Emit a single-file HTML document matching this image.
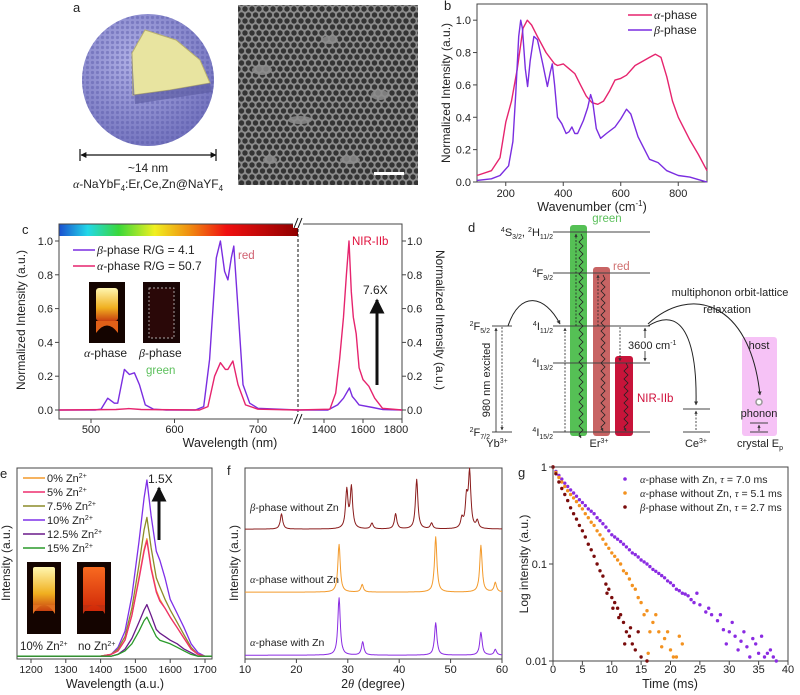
<!DOCTYPE html>
<html><head><meta charset="utf-8"><style>
html,body{margin:0;padding:0;background:#fff;}
svg{display:block;font-family:"Liberation Sans",Arial,sans-serif;}
text{fill:#222;}
</style></head>
<body>
<svg id="fig" width="800" height="695" viewBox="0 0 800 695" xmlns="http://www.w3.org/2000/svg" font-family="Liberation Sans, Arial, sans-serif">
<defs>
  <linearGradient id="rainbow" x1="0" x2="1" y1="0" y2="0">
    <stop offset="0" stop-color="#1a4fd0"/><stop offset="0.12" stop-color="#22d8e8"/>
    <stop offset="0.25" stop-color="#3ad83a"/><stop offset="0.4" stop-color="#f0f020"/>
    <stop offset="0.55" stop-color="#f08a10"/><stop offset="0.7" stop-color="#f01010"/>
    <stop offset="1" stop-color="#900000"/>
  </linearGradient>
  <radialGradient id="sph" cx="0.4" cy="0.35" r="0.7">
    <stop offset="0" stop-color="#b0b0e6"/><stop offset="1" stop-color="#7070bc"/>
  </radialGradient>
  <pattern id="dots" width="7" height="12" patternUnits="userSpaceOnUse">
    <circle cx="3.5" cy="3" r="2.7" fill="#1e1e1e"/>
    <circle cx="0" cy="9" r="2.7" fill="#1e1e1e"/>
    <circle cx="7" cy="9" r="2.7" fill="#1e1e1e"/>
  </pattern>
  <pattern id="atoms" width="5" height="5" patternUnits="userSpaceOnUse">
    <circle cx="2.5" cy="2.5" r="1.6" fill="#5858a8" opacity="0.45"/>
  </pattern>
  <linearGradient id="glowY" x1="0" x2="0" y1="0" y2="1">
    <stop offset="0" stop-color="#fff6b0"/><stop offset="0.6" stop-color="#f0b020"/><stop offset="1" stop-color="#c84010"/>
  </linearGradient>
  <linearGradient id="glowR" x1="0" x2="0" y1="0" y2="1">
    <stop offset="0" stop-color="#f86a20"/><stop offset="1" stop-color="#d02808"/>
  </linearGradient>
  <marker id="ah" viewBox="0 0 10 10" refX="9" refY="5" markerWidth="5" markerHeight="5" orient="auto-start-reverse"><path d="M0,0L10,5L0,10z" fill="#111"/></marker>
  <marker id="ahs" viewBox="0 0 10 10" refX="9" refY="5" markerWidth="4" markerHeight="4" orient="auto-start-reverse"><path d="M0,0L10,5L0,10z" fill="#333"/></marker>
</defs>

<!-- Panel a -->
<g>
  <text x="73" y="12" font-size="13">a</text>
  <circle cx="148" cy="80" r="66" fill="url(#sph)"/>
  <circle cx="148" cy="80" r="66" fill="url(#atoms)"/>
  <polygon points="145,30 176,40 200,60 210,83 170,90 133,95 132,53" fill="#e8e4a0" stroke="#b8b070" stroke-width="1"/>
  <polygon points="132,53 133,95 170,90 210,83 212,92 135,104" fill="#5a5aa0" opacity="0.6"/>
  <line x1="81" y1="155" x2="216" y2="155" stroke="#111" stroke-width="1.2" marker-start="url(#ah)" marker-end="url(#ah)"/>
  <line x1="80" y1="149" x2="80" y2="161" stroke="#111" stroke-width="1.2"/>
  <line x1="216" y1="149" x2="216" y2="161" stroke="#111" stroke-width="1.2"/>
  <text x="148" y="172" font-size="12" text-anchor="middle">~14 nm</text>
  <text x="148" y="188" font-size="12" text-anchor="middle"><tspan font-style="italic" font-family="Liberation Serif">α</tspan>-NaYbF<tspan font-size="8" dy="3">4</tspan><tspan dy="-3">:Er,Ce,Zn@NaYF</tspan><tspan font-size="8" dy="3">4</tspan></text>
  <rect x="238" y="5" width="180" height="180" fill="#8c8c8c"/>
  <rect x="238" y="5" width="180" height="180" fill="url(#dots)" opacity="0.8"/>
  <g fill="#8c8c8c" opacity="0.85">
    <ellipse cx="262" cy="70" rx="10" ry="5"/><ellipse cx="330" cy="40" rx="8" ry="4"/>
    <ellipse cx="300" cy="120" rx="12" ry="4"/><ellipse cx="380" cy="95" rx="9" ry="5"/>
    <ellipse cx="350" cy="160" rx="10" ry="4"/><ellipse cx="270" cy="160" rx="7" ry="4"/>
  </g>
  <rect x="374" y="172" width="30" height="3" fill="#fff"/>
</g>

<!-- Panel b -->
<g id="pb">
  <text x="444" y="10" font-size="13">b</text>
  <rect x="477" y="4" width="230" height="178" fill="none" stroke="#444" stroke-width="1"/>
  <text x="592" y="211" font-size="12.5" text-anchor="middle">Wavenumber (cm<tspan font-size="8" dy="-5">-1</tspan><tspan dy="5">)</tspan></text>
  <text transform="translate(450,93) rotate(-90)" font-size="12" text-anchor="middle">Normalized Intensity (a.u.)</text>
  <line x1="628" y1="15" x2="652" y2="15" stroke="#e6246e" stroke-width="1.5"/>
  <text x="654" y="19" font-size="12"><tspan font-style="italic" font-family="Liberation Serif">α</tspan>-phase</text>
  <line x1="628" y1="30" x2="652" y2="30" stroke="#7a2de0" stroke-width="1.5"/>
  <text x="654" y="34" font-size="12"><tspan font-style="italic" font-family="Liberation Serif">β</tspan>-phase</text>
</g>

<!-- Panel c -->
<g id="pc">
  <text x="22" y="234" font-size="13">c</text>
  <rect x="59" y="224" width="239" height="12" fill="url(#rainbow)"/>
  <rect x="59" y="224" width="343" height="195" fill="none" stroke="#444" stroke-width="1"/>
  <line x1="298" y1="224" x2="298" y2="419" stroke="#111" stroke-dasharray="3,2"/>
  <rect x="293" y="218" width="10" height="10" fill="#fff"/>
  <rect x="293" y="414" width="10" height="10" fill="#fff"/>
  <path d="M294,228 L298,218 M298,228 L302,218 M294,424 L298,414 M298,424 L302,414" stroke="#111" stroke-width="1"/>
  <text x="230" y="447" font-size="12.5" text-anchor="middle">Wavelength (nm)</text>
  <text transform="translate(25,320) rotate(-90)" font-size="12" text-anchor="middle">Normalized Intensity (a.u.)</text>
  <text transform="translate(436,320) rotate(90)" font-size="12" text-anchor="middle">Normalized Intensity (a.u.)</text>
  <line x1="73" y1="250" x2="95" y2="250" stroke="#7a2de0" stroke-width="1.5"/>
  <text x="97" y="254" font-size="12"><tspan font-style="italic" font-family="Liberation Serif">β</tspan>-phase R/G = 4.1</text>
  <line x1="73" y1="266" x2="95" y2="266" stroke="#e6246e" stroke-width="1.5"/>
  <text x="97" y="270" font-size="12"><tspan font-style="italic" font-family="Liberation Serif">α</tspan>-phase R/G = 50.7</text>
  <g>
    <rect x="89" y="282" width="36" height="61" fill="#140400"/>
    <rect x="96" y="288" width="22" height="33" rx="3" fill="url(#glowY)"/>
    <path d="M96,333 Q107,318 118,333 L118,321 L96,321z" fill="#e06018"/>
  </g>
  <g>
    <rect x="143" y="282" width="37" height="61" fill="#1a0505"/>
    <rect x="149" y="288" width="25" height="50" fill="#2a0808" stroke="#ddd" stroke-dasharray="2,2" stroke-width="0.7"/>
  </g>
  <text x="84" y="357" font-size="12"><tspan font-style="italic" font-family="Liberation Serif">α</tspan>-phase</text>
  <text x="139" y="357" font-size="12"><tspan font-style="italic" font-family="Liberation Serif">β</tspan>-phase</text>
  <text x="146" y="374" font-size="11.5" style="fill:#5cc05c">green</text>
  <text x="238" y="259" font-size="11.5" style="fill:#d06070">red</text>
  <text x="352" y="245" font-size="11.5" style="fill:#e0103c">NIR-IIb</text>
  <text x="363" y="294" font-size="12">7.6X</text>
  <line x1="377" y1="385" x2="377" y2="300" stroke="#111" stroke-width="3" marker-end="url(#ah)"/>
</g>

<!-- Panel d -->
<g id="pd" font-size="11">
  <text x="468" y="232" font-size="13">d</text>
  <rect x="570" y="225" width="17" height="211" rx="3" fill="#55c055"/>
  <rect x="593" y="267" width="17" height="169" rx="3" fill="#c86464"/>
  <rect x="615" y="356" width="18" height="80" rx="3" fill="#c8143a"/>
  <rect x="742" y="337" width="35" height="99" rx="3" fill="#f6c2f6"/>
  <g stroke="#444" stroke-width="1">
    <line x1="553" y1="232" x2="650" y2="232"/><line x1="553" y1="273" x2="650" y2="273"/>
    <line x1="553" y1="326" x2="650" y2="326"/><line x1="553" y1="363" x2="650" y2="363"/>
    <line x1="553" y1="432" x2="650" y2="432"/>
    <line x1="492" y1="326" x2="512" y2="326"/><line x1="492" y1="432" x2="512" y2="432"/>
    <line x1="683" y1="409" x2="710" y2="409"/><line x1="683" y1="432" x2="710" y2="432"/>
    <line x1="750" y1="423" x2="768" y2="423"/><line x1="750" y1="432" x2="768" y2="432"/>
  </g>
  <g stroke="#222" fill="none" stroke-width="0.8">
    <line x1="496" y1="432" x2="496" y2="328" marker-end="url(#ahs)"/>
    <line x1="502" y1="327" x2="502" y2="430" stroke-dasharray="2,1.5" marker-end="url(#ahs)"/>
    <line x1="565" y1="432" x2="565" y2="328" stroke-dasharray="2,1.5" marker-end="url(#ahs)"/>
    <line x1="576" y1="326" x2="576" y2="234" stroke-dasharray="2,1.5" marker-end="url(#ahs)"/>
    <line x1="598" y1="326" x2="598" y2="275" stroke-dasharray="2,1.5" marker-end="url(#ahs)"/>
    <line x1="620" y1="327" x2="620" y2="361" stroke-dasharray="2,1.5" marker-end="url(#ahs)"/>
    <path d="M581,234 l2,4 l-4,4 l4,4 l-4,4 l4,4 l-4,4 l4,4 l-4,4 l4,4 l-4,4 l4,4 l-4,4 l4,4 l-4,4 l4,4 l-4,4 l4,4 l-4,4 l4,4 l-4,4 l4,4 l-4,4 l4,4 l-4,4 l4,4 l-4,4 l4,4 l-4,4 l4,4 l-4,4 l4,4 l-4,4 l4,4 l-4,4 l4,4 l-4,4 l4,4 l-4,4 l4,4 l-4,4 l4,4 l-4,4 l4,4 l-4,4 l4,4 l-4,4 l4,4 l-4,4 l4,4 l-4,4 l2,4" marker-end="url(#ahs)"/>
    <path d="M603,275 l2,4 l-4,4 l4,4 l-4,4 l4,4 l-4,4 l4,4 l-4,4 l4,4 l-4,4 l4,4 l-4,4 l4,4 l-4,4 l4,4 l-4,4 l4,4 l-4,4 l4,4 l-4,4 l4,4 l-4,4 l4,4 l-4,4 l4,4 l-4,4 l4,4 l-4,4 l4,4 l-4,4 l4,4 l-4,4 l4,4 l-4,4 l4,4 l-4,4 l4,4 l-4,4 l2,4" marker-end="url(#ahs)"/>
    <path d="M626,363 l2,4 l-4,4 l4,4 l-4,4 l4,4 l-4,4 l4,4 l-4,4 l4,4 l-4,4 l4,4 l-4,4 l4,4 l-4,4 l4,4 l-4,4 l2,4" marker-end="url(#ahs)"/>
    <path d="M508,326 C520,290 545,295 560,324" stroke-width="1" marker-end="url(#ahs)"/>
    <path d="M648,326 C690,300 697,360 696,405" stroke-width="1" marker-end="url(#ahs)"/>
    <path d="M648,324 C690,285 750,300 760,395" stroke-width="1" marker-end="url(#ahs)"/>
    <line x1="645" y1="338" x2="645" y2="328" marker-end="url(#ahs)"/>
    <line x1="645" y1="351" x2="645" y2="361" marker-end="url(#ahs)"/>
    <line x1="696" y1="430" x2="696" y2="411" stroke-dasharray="2,1.5" marker-end="url(#ahs)"/>
    <line x1="759" y1="431" x2="759" y2="425" marker-end="url(#ahs)"/>
  </g>
  <circle cx="759" cy="402" r="3" fill="#fff" stroke="#999" stroke-width="1.5"/>
  <text x="553" y="236" text-anchor="end"><tspan font-size="7" dy="-4">4</tspan><tspan dy="4">S</tspan><tspan font-size="7" dy="3">3/2</tspan><tspan dy="-3">, </tspan><tspan font-size="7" dy="-4">2</tspan><tspan dy="4">H</tspan><tspan font-size="7" dy="3">11/2</tspan></text>
  <text x="553" y="277" text-anchor="end"><tspan font-size="7" dy="-4">4</tspan><tspan dy="4">F</tspan><tspan font-size="7" dy="3">9/2</tspan></text>
  <text x="553" y="330" text-anchor="end"><tspan font-size="7" dy="-4">4</tspan><tspan dy="4">I</tspan><tspan font-size="7" dy="3">11/2</tspan></text>
  <text x="553" y="367" text-anchor="end"><tspan font-size="7" dy="-4">4</tspan><tspan dy="4">I</tspan><tspan font-size="7" dy="3">13/2</tspan></text>
  <text x="553" y="436" text-anchor="end"><tspan font-size="7" dy="-4">4</tspan><tspan dy="4">I</tspan><tspan font-size="7" dy="3">15/2</tspan></text>
  <text x="490" y="330" text-anchor="end"><tspan font-size="7" dy="-4">2</tspan><tspan dy="4">F</tspan><tspan font-size="7" dy="3">5/2</tspan></text>
  <text x="490" y="436" text-anchor="end"><tspan font-size="7" dy="-4">2</tspan><tspan dy="4">F</tspan><tspan font-size="7" dy="3">7/2</tspan></text>
  <text transform="translate(490,380) rotate(-90)" text-anchor="middle" font-size="11">980 nm excited</text>
  <text x="607" y="222" font-size="11.5" text-anchor="middle" style="fill:#5cc05c">green</text>
  <text x="613" y="270" font-size="11.5" style="fill:#d07070">red</text>
  <text x="637" y="402" font-size="11.5" style="fill:#d0103c">NIR-IIb</text>
  <text x="628" y="349" font-size="11">3600 cm<tspan font-size="7" dy="-4">-1</tspan></text>
  <text x="730" y="296" font-size="11" text-anchor="middle">multiphonon orbit-lattice</text>
  <text x="727" y="313" font-size="11" text-anchor="middle">relaxation</text>
  <text x="759" y="349" font-size="11" text-anchor="middle">host</text>
  <text x="759" y="417" font-size="11" text-anchor="middle">phonon</text>
  <text x="760" y="447" font-size="11" text-anchor="middle">crystal E<tspan font-size="7" dy="3">p</tspan></text>
  <text x="497" y="447" font-size="11" text-anchor="middle">Yb<tspan font-size="7" dy="-4">3+</tspan></text>
  <text x="599" y="447" font-size="11" text-anchor="middle">Er<tspan font-size="7" dy="-4">3+</tspan></text>
  <text x="696" y="447" font-size="11" text-anchor="middle">Ce<tspan font-size="7" dy="-4">3+</tspan></text>
</g>

<!-- Panel e -->
<g id="pe">
  <text x="0" y="478" font-size="13">e</text>
  <rect x="17" y="468" width="195" height="191" fill="none" stroke="#444"/>
  <text x="115" y="688" font-size="12.5" text-anchor="middle">Wavelength (a.u.)</text>
  <text transform="translate(10,563) rotate(-90)" font-size="12" text-anchor="middle">Intensity (a.u.)</text>
  <g>
    <rect x="27" y="562" width="34" height="72" fill="#140400"/>
    <rect x="33" y="567" width="22" height="44" rx="2" fill="url(#glowY)"/>
    <path d="M33,614 Q44,596 55,614 L55,605 L33,605z" fill="#e07020"/>
  </g>
  <g>
    <rect x="77" y="562" width="34" height="72" fill="#140400"/>
    <rect x="83" y="567" width="22" height="44" rx="2" fill="url(#glowR)"/>
    <path d="M83,614 Q94,596 105,614 L105,605 L83,605z" fill="#c03010"/>
  </g>
  <text x="20" y="650" font-size="11.5">10% Zn<tspan font-size="7" dy="-4">2+</tspan></text>
  <text x="78" y="650" font-size="11.5">no Zn<tspan font-size="7" dy="-4">2+</tspan></text>
  <text x="148" y="483" font-size="12">1.5X</text>
  <line x1="159" y1="540" x2="159" y2="488" stroke="#111" stroke-width="3" marker-end="url(#ah)"/>
</g>

<!-- Panel f -->
<g id="pf">
  <text x="227" y="475" font-size="13">f</text>
  <rect x="245" y="468" width="257" height="191" fill="none" stroke="#444"/>
  <text x="373" y="688" font-size="12.5" text-anchor="middle">2<tspan font-style="italic" font-family="Liberation Serif">θ</tspan> (degree)</text>
  <text transform="translate(238,563) rotate(-90)" font-size="12" text-anchor="middle">Intensity (a.u.)</text>
  <text x="250" y="511" font-size="10.5"><tspan font-style="italic" font-family="Liberation Serif">β</tspan>-phase without Zn</text>
  <text x="250" y="583" font-size="10.5"><tspan font-style="italic" font-family="Liberation Serif">α</tspan>-phase without Zn</text>
  <text x="250" y="646" font-size="10.5"><tspan font-style="italic" font-family="Liberation Serif">α</tspan>-phase with Zn</text>
</g>

<!-- Panel g -->
<g id="pg">
  <text x="518" y="477" font-size="13">g</text>
  <rect x="553" y="467" width="235" height="194" fill="none" stroke="#444"/>
  <text x="670" y="688" font-size="12.5" text-anchor="middle">Time (ms)</text>
  <text transform="translate(528,564) rotate(-90)" font-size="12" text-anchor="middle">Log intensity (a.u.)</text>
  <circle cx="625" cy="479" r="1.8" fill="#8a2be2"/>
  <text x="640" y="483" font-size="10.5"><tspan font-style="italic" font-family="Liberation Serif">α</tspan>-phase with Zn, <tspan font-style="italic" font-family="Liberation Serif">τ</tspan> = 7.0 ms</text>
  <circle cx="625" cy="493" r="1.8" fill="#f39220"/>
  <text x="640" y="497" font-size="10.5"><tspan font-style="italic" font-family="Liberation Serif">α</tspan>-phase without Zn, <tspan font-style="italic" font-family="Liberation Serif">τ</tspan> = 5.1 ms</text>
  <circle cx="625" cy="507" r="1.8" fill="#7a0c0c"/>
  <text x="640" y="511" font-size="10.5"><tspan font-style="italic" font-family="Liberation Serif">β</tspan>-phase without Zn, <tspan font-style="italic" font-family="Liberation Serif">τ</tspan> = 2.7 ms</text>
</g>
</svg>

<script>
// ---------- Panel b data ----------
const bAlphaX = [100,150,180,200,220,240,260,275,290,310,340,370,380,400,420,440,460,480,500,520,540,560,580,600,620,650,680,700,720,740,760,780,800,840,870,900];
const bAlphaY = [0.04,0.07,0.15,0.37,0.5,0.7,0.95,1.0,0.97,0.9,0.8,0.73,0.72,0.73,0.7,0.67,0.6,0.53,0.49,0.48,0.5,0.56,0.63,0.64,0.66,0.72,0.75,0.77,0.79,0.77,0.65,0.5,0.4,0.26,0.17,0.07];
const bBetaX = [100,150,180,210,225,235,245,252,258,268,276,285,298,310,320,330,338,345,355,362,370,380,395,410,420,430,440,450,470,485,495,502,515,530,550,580,600,620,635,660,700,730,760,800,840,880,900];
const bBetaY = [0.01,0.02,0.04,0.1,0.25,0.55,0.9,1.0,0.95,0.7,0.59,0.75,0.9,0.88,0.8,0.72,0.65,0.59,0.68,0.73,0.6,0.4,0.36,0.3,0.31,0.34,0.3,0.3,0.38,0.46,0.54,0.5,0.33,0.27,0.3,0.34,0.39,0.45,0.42,0.28,0.14,0.12,0.07,0.04,0.03,0.01,0.0];
const bXTicks = [200,400,600,800];
const bYTicks = [0.0,0.2,0.4,0.6,0.8,1.0];

// ---------- Panel c data ----------
const cBetaX = [462,505,512,520,528,532,540,546,552,558,565,575,590,625,635,642,650,655,660,664,668,671,676,682,690,700,747];
const cBetaY = [0,0,0.005,0.07,0.04,0.04,0.24,0.21,0.22,0.15,0.03,0.005,0,0,0.02,0.3,0.9,1.0,0.82,0.77,0.9,0.97,0.6,0.15,0.04,0.01,0];
const cAlphaX = [462,530,545,560,630,640,648,655,661,664,670,676,685,700,747];
const cAlphaY = [0,0.003,0.008,0.003,0,0.02,0.2,0.28,0.24,0.24,0.29,0.15,0.03,0.005,0];
const cBetaNirX = [1260,1420,1470,1500,1530,1545,1560,1580,1650,1700,1800];
const cBetaNirY = [0,0,0.03,0.07,0.13,0.08,0.06,0.03,0.015,0.003,0];
const cAlphaNirX = [1260,1430,1460,1480,1500,1515,1528,1540,1550,1565,1580,1600,1630,1660,1700,1800];
const cAlphaNirY = [0,0.005,0.1,0.3,0.55,0.8,1.0,0.7,0.55,0.45,0.25,0.18,0.14,0.07,0.01,0];
const cXTicksLeft = [500,600,700];
const cXTicksRight = [1400,1600,1800];
const cYTicks = [0.0,0.2,0.4,0.6,0.8,1.0];

// ---------- Panel e data ----------
const eX = [1160,1400,1430,1450,1470,1490,1510,1525,1533,1545,1560,1570,1585,1600,1620,1640,1660,1680,1700,1720];
const e0 = [0.01,0.01,0.02,0.04,0.1,0.24,0.45,0.61,0.67,0.51,0.38,0.33,0.28,0.23,0.17,0.11,0.05,0.02,0.01,0.01];
const e5 = [0.01,0.01,0.02,0.04,0.1,0.24,0.44,0.6,0.66,0.5,0.37,0.32,0.28,0.23,0.17,0.11,0.05,0.02,0.01,0.01];
const e75 = [0.01,0.01,0.02,0.05,0.12,0.28,0.52,0.72,0.79,0.62,0.45,0.4,0.33,0.27,0.2,0.13,0.06,0.02,0.01,0.01];
const e10 = [0.01,0.01,0.02,0.06,0.15,0.35,0.65,0.9,1.0,0.8,0.6,0.55,0.45,0.33,0.25,0.17,0.08,0.03,0.01,0.01];
const e125 = [0.01,0.01,0.01,0.02,0.05,0.11,0.2,0.27,0.3,0.24,0.16,0.14,0.12,0.1,0.08,0.05,0.03,0.01,0.01,0.01];
const e15 = [0.01,0.01,0.01,0.02,0.04,0.08,0.15,0.21,0.23,0.18,0.12,0.1,0.09,0.08,0.06,0.04,0.02,0.01,0.01,0.01];
const eLegend = ["0% Zn","5% Zn","7.5% Zn","10% Zn","12.5% Zn","15% Zn"];
const eXTicks = [1200,1300,1400,1500,1600,1700];

// ---------- Panel f data ----------
const fBetaPos = [17.1,29.8,30.7,34.7,39.3,43.4,46.3,52.2,53.1,53.7,55.2];
const fBetaH = [8,20,21.5,3,8,26,3,5,15,29,4];
const fAlphaNoZnPos = [28.3,32.8,47.1,55.9,58.7];
const fAlphaNoZnH = [25,4,29,24.5,5];
const fAlphaZnPos = [28.3,32.9,47.1,55.9,58.7];
const fAlphaZnH = [30,7,17,12,3];
const fOffsets = [68,35,2];
const fXTicks = [10,20,30,40,50,60];

// ---------- Panel g data ----------
const gPurpleT = [0,1,2,3,4,5,6,7,8,9,10,11,12,13,14,15,16,17,18,19,20,21,22,23,24,25,26,27,28,29,30,31,32,33,34,35,36,37,38,24.5,26.5,28.5,29.5,30.5,31.5,32.5,33.5,34.5,35.5,36.5,37.5,0.5,1.5,2.5,3.5,4.5,5.5,6.5,7.5,8.5,9.5,10.5,11.5,12.5,13.5,14.5,15.5,16.5,17.5,18.5,19.5,20.5,21.5,22.5,23.5];
const gPurpleV = [1,0.82,0.68,0.58,0.5,0.43,0.37,0.33,0.28,0.24,0.2,0.18,0.16,0.14,0.125,0.11,0.1,0.088,0.08,0.072,0.064,0.055,0.05,0.047,0.04,0.038,0.032,0.03,0.026,0.021,0.02,0.018,0.016,0.014,0.017,0.012,0.011,0.013,0.01,0.05,0.035,0.03,0.015,0.025,0.013,0.02,0.011,0.015,0.018,0.012,0.011,0.9,0.75,0.63,0.54,0.46,0.4,0.35,0.3,0.26,0.22,0.19,0.17,0.15,0.13,0.118,0.105,0.094,0.084,0.076,0.067,0.06,0.053,0.049,0.043];
const gOrangeT = [0,1,2,3,4,5,6,7,8,9,10,11,12,13,14,15,16,17,18,19,20,21,22,13.5,14.5,15.5,16.5,17.5,18.5,19.5,20.5,21.5,16.2,0.5,1.5,2.5,3.5,4.5,5.5,6.5,7.5,8.5,9.5,10.5,11.5,12.5];
const gOrangeV = [1,0.78,0.63,0.52,0.44,0.37,0.3,0.25,0.2,0.16,0.13,0.11,0.085,0.07,0.055,0.04,0.033,0.025,0.02,0.017,0.013,0.011,0.015,0.06,0.045,0.03,0.02,0.03,0.014,0.02,0.011,0.018,0.012,0.88,0.7,0.57,0.48,0.4,0.33,0.27,0.22,0.18,0.145,0.12,0.1,0.08];
const gRedT = [0,0.5,1,1.5,2,2.5,3,3.5,4,4.5,5,5.5,6,6.5,7,7.5,8,8.5,9,9.5,10,10.5,11,11.5,12,12.5,13,13.5,14,14.5,15,16,12.2,13.2,9.2,10.2,11.2];
const gRedV = [1,0.85,0.7,0.6,0.52,0.45,0.38,0.33,0.29,0.25,0.22,0.19,0.16,0.14,0.12,0.1,0.085,0.075,0.062,0.055,0.045,0.04,0.035,0.03,0.025,0.02,0.018,0.015,0.013,0.02,0.011,0.01,0.015,0.022,0.05,0.035,0.028];
const gXTicks = [0,5,10,15,20,25,30,35,40];
const gYTicks = [1,0.1,0.01];
const gYLabels = ["1","0.1","0.01"];

// ---------- helpers ----------
const NS = "http://www.w3.org/2000/svg";
function lin(d0,d1,r0,r1){ return v => r0 + (v-d0)*(r1-r0)/(d1-d0); }
function el(tag, attrs, parent){
  const e = document.createElementNS(NS, tag);
  for (const k in attrs) e.setAttribute(k, attrs[k]);
  parent.appendChild(e);
  return e;
}
function line(parent, xs, ys, sx, sy, color, name, w){
  const d = xs.map((x,i)=>(i?'L':'M')+sx(x).toFixed(1)+','+sy(ys[i]).toFixed(1)).join('');
  const p = el('path', {d:d, fill:'none', stroke:color, 'stroke-width':w||1.4, 'stroke-linejoin':'round'}, parent);
  
  
  return p;
}
function text(parent, x, y, s, anchor, size, name){
  const t = el('text', {x:x, y:y, 'font-size':size||11, 'text-anchor':anchor||'middle'}, parent);
  t.textContent = s;
  
  
  return t;
}
function tick(parent, x1,y1,x2,y2, name){
  const l = el('line', {x1:x1,y1:y1,x2:x2,y2:y2,stroke:'#444','stroke-width':1}, parent);
  
  
}

// ---------- Panel b ----------
(function(){
  const g = document.getElementById('pb');
  const sx = lin(100,900,477,707), sy = lin(0,1.1,182,4);
  line(g, bAlphaX, bAlphaY, sx, sy, '#e6246e', 'alpha-phase-raman');
  line(g, bBetaX, bBetaY, sx, sy, '#7a2de0', 'beta-phase-raman');
  bXTicks.forEach(v=>{ tick(g, sx(v),182,sx(v),186,'x-tick-b'); text(g, sx(v),197,String(v),'middle',11,'x-tick-label-b'); });
  bYTicks.forEach(v=>{ tick(g, 473,sy(v),477,sy(v),'y-tick-b'); text(g, 471,sy(v)+4,v.toFixed(1),'end',11,'y-tick-label-b'); });
})();

// ---------- Panel c ----------
(function(){
  const g = document.getElementById('pc');
  const sxL = lin(500,700,91,258), sxR = lin(1400,1800,324,402), sy = lin(0,1,410,241);
  line(g, cBetaX, cBetaY, sxL, sy, '#7a2de0', 'beta-visible-spectrum');
  line(g, cAlphaX, cAlphaY, sxL, sy, '#e6246e', 'alpha-visible-spectrum');
  line(g, cBetaNirX, cBetaNirY, sxR, sy, '#7a2de0', 'beta-nir-spectrum');
  line(g, cAlphaNirX, cAlphaNirY, sxR, sy, '#e6246e', 'alpha-nir-spectrum');
  cXTicksLeft.forEach(v=>{ tick(g, sxL(v),419,sxL(v),423,'x-tick-c'); text(g, sxL(v),433,String(v),'middle',11,'x-tick-label-c'); });
  cXTicksRight.forEach(v=>{ tick(g, sxR(v),419,sxR(v),423,'x-tick-c-right'); text(g, Math.min(sxR(v),396),433,String(v),'middle',11,'x-tick-label-c-right'); });
  cYTicks.forEach(v=>{
    tick(g, 55,sy(v),59,sy(v),'y-tick-c'); text(g, 53,sy(v)+4,v.toFixed(1),'end',11,'y-tick-label-c');
    tick(g, 402,sy(v),406,sy(v),'y2-tick-c'); text(g, 407,sy(v)+4,v.toFixed(1),'start',11,'y2-tick-label-c');
  });
})();

// ---------- Panel e ----------
(function(){
  const g = document.getElementById('pe');
  const sx = lin(1200,1700,31,205), sy = lin(0,1,658,480);
  const series = [e0,e5,e75,e10,e125,e15];
  const colors = ['#f39a2b','#ee2f6e','#8c8c28','#7f30e8','#6a1a8a','#2a9a2a'];
  const names = ['spectrum-0-zn','spectrum-5-zn','spectrum-7-5-zn','spectrum-10-zn','spectrum-12-5-zn','spectrum-15-zn'];
  [3,2,0,1,4,5].forEach(i=> line(g, eX, series[i], sx, sy, colors[i], names[i], 1.3));
  eLegend.forEach((s,i)=>{
    const y = 478 + i*14;
    const l = el('line',{x1:23,y1:y,x2:45,y2:y,stroke:colors[i],'stroke-width':1.5}, g);
    
    
    const t = text(g, 47, y+4, s, 'start', 11, 'legend-entry-e');
    const sup = el('tspan',{'font-size':7,dy:-4}, t); sup.textContent='2+';
  });
  eXTicks.forEach(v=>{ tick(g, sx(v),659,sx(v),663,'x-tick-e'); text(g, sx(v),673,String(v),'middle',10.5,'x-tick-label-e'); });
})();

// ---------- Panel f ----------
(function(){
  const g = document.getElementById('pf');
  const sx = lin(10,60,245,502), sy = lin(0,100,659,468);
  const xs = []; for (let x=10; x<=60.001; x+=0.1) xs.push(+x.toFixed(2));
  function trace(pos, h, off){ return xs.map(x=>{ let v=off; pos.forEach((p,i)=>{ const w=0.28; v += h[i]*w*w/((x-p)*(x-p)+w*w); }); return v; }); }
  line(g, xs, trace(fBetaPos,fBetaH,fOffsets[0]), sx, sy, '#8a1c1c', 'xrd-beta-without-zn', 1);
  line(g, xs, trace(fAlphaNoZnPos,fAlphaNoZnH,fOffsets[1]), sx, sy, '#f39a2b', 'xrd-alpha-without-zn', 1);
  line(g, xs, trace(fAlphaZnPos,fAlphaZnH,fOffsets[2]), sx, sy, '#8a2be2', 'xrd-alpha-with-zn', 1);
  fXTicks.forEach(v=>{ tick(g, sx(v),659,sx(v),663,'x-tick-f'); text(g, sx(v),673,String(v),'middle',11,'x-tick-label-f'); });
})();

// ---------- Panel g ----------
(function(){
  const g = document.getElementById('pg');
  const sx = lin(0,40,553,788);
  const ly = lin(0,-2,467,661);
  const sy = v => ly(Math.log10(v));
  function scatter(ts, vs, color, name){
    ts.forEach((t,i)=>{
      const c = el('circle',{cx:sx(t).toFixed(1), cy:sy(vs[i]).toFixed(1), r:1.7, fill:color}, g);
      
      
    });
  }
  scatter(gPurpleT, gPurpleV, '#8a2be2', 'decay-point-alpha-zn');
  scatter(gOrangeT, gOrangeV, '#f39220', 'decay-point-alpha-nozn');
  scatter(gRedT, gRedV, '#7a0c0c', 'decay-point-beta');
  gXTicks.forEach(v=>{ tick(g, sx(v),661,sx(v),665,'x-tick-g'); text(g, sx(v),673,String(v),'middle',11,'x-tick-label-g'); });
  gYTicks.forEach((v,i)=>{ tick(g, 549,sy(v),553,sy(v),'y-tick-g'); text(g, 547,sy(v)+4,gYLabels[i],'end',11,'y-tick-label-g'); });
})();
</script>
</body></html>
